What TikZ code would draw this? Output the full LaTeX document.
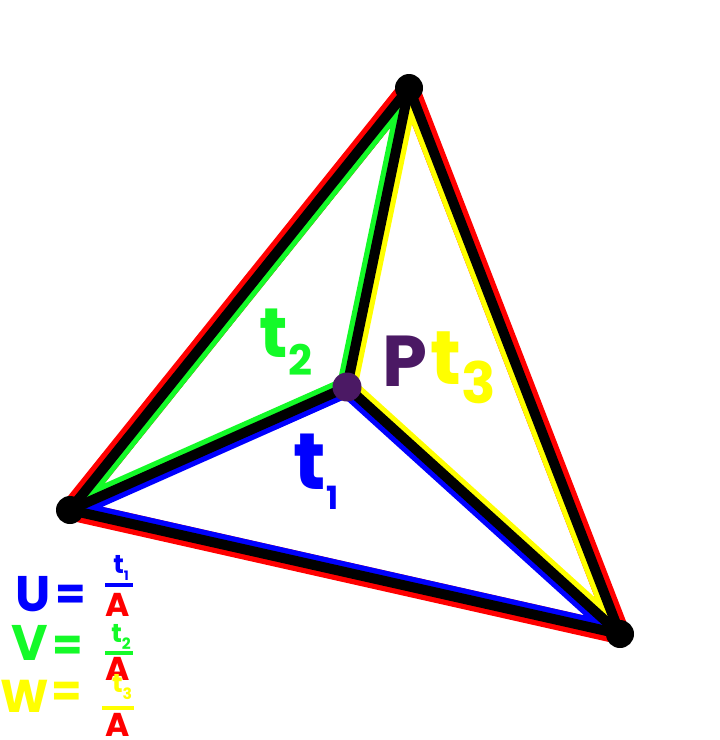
\documentclass[tikz,border=0pt]{standalone}
\usepackage{fontspec}
\setmainfont{Poppins}
\usepackage{xcolor}
\usepackage{graphicx}
\usetikzlibrary{positioning}
\definecolor{rimred}{RGB}{255,0,0}
\definecolor{areablue}{RGB}{0,0,255}
\definecolor{areagreen}{RGB}{20,250,40}
\definecolor{areayellow}{RGB}{255,255,0}
\definecolor{ptpurple}{RGB}{75,25,100}
\newcommand{\lowsub}[2][0.6]{\raisebox{-0.25em}{\scalebox{#1}{#2}}}

\begin{document}
\begin{tikzpicture}[x=1pt, y=-1pt,
  edge/.style={line width=10pt, black, line cap=round},
  side/.style={line width=20.5pt, line join=round, draw=#1},
  vertex/.style={circle, fill=#1, minimum size=28pt, inner sep=0pt},
  vertex/.default=black,
  lbl/.style={font=\fontsize{#1}{#1}\selectfont\bfseries, inner sep=0pt},
  bar/.style={inner sep=0pt}
]
  \useasboundingbox (0,0) rectangle (720,740);

  % corners and the inner point
  \coordinate (T) at (409,88);
  \coordinate (L) at (70,510);
  \coordinate (R) at (620,634);
  \coordinate (P) at (347,387);

  % outer rim
  \draw[side=rimred] (T) -- (L) -- (R) -- cycle;

  % sub-triangles, coloured on the inside only
  \begin{scope}
    \clip (P) -- (L) -- (R) -- cycle;
    \draw[side=areablue] (P) -- (L) -- (R) -- cycle;
  \end{scope}
  \begin{scope}
    \clip (P) -- (T) -- (L) -- cycle;
    \draw[side=areagreen] (P) -- (T) -- (L) -- cycle;
  \end{scope}
  \begin{scope}
    \clip (P) -- (R) -- (T) -- cycle;
    \draw[side=areayellow] (P) -- (R) -- (T) -- cycle;
  \end{scope}

  % black edges
  \draw[edge] (T) -- (L);
  \draw[edge] (L) -- (R);
  \draw[edge] (R) -- (T);
  \draw[edge] (P) -- (T);
  \draw[edge] (P) -- (L);
  \draw[edge] (P) -- (R);

  % dots
  \node[vertex] (dotT) at (T) {};
  \node[vertex] (dotL) at (L) {};
  \node[vertex] (dotR) at (R) {};
  \node[vertex=ptpurple, minimum size=29pt] (dotP) at (P) {};

  % area labels
  \node[lbl=70, text=areagreen] (ttwo) at (286,342) {t\lowsub[0.6]{2}};
  \node[lbl=72, text=ptpurple] (plabel) at (405,361) {P};
  \node[lbl=76, text=areayellow] (tthree) at (463,368) {t\lowsub[0.75]{3}};
  \node[lbl=80, text=areablue] (tone) at (316,472) {t\lowsub[0.4]{1}};

  % barycentric ratios
  \node[lbl=50, text=areablue] (uname) at (33,594) {U};
  \node[lbl=44, text=areablue] (ueq) at (71,597) {=};
  \node[lbl=26, text=areablue] (unum) at (121,568) {t\lowsub[0.5]{1}};
  \node[bar, text=areablue] (ubar) at (119,585) {\rule{28pt}{4.5pt}};
  \node[lbl=33, text=rimred] (uden) at (118,605) {A};

  \node[lbl=50, text=areagreen] (vname) at (30,643) {V};
  \node[lbl=44, text=areagreen] (veq) at (68,648) {=};
  \node[lbl=26, text=areagreen] (vnum) at (121,637) {t\lowsub[0.6]{2}};
  \node[bar, text=areagreen] (vbar) at (119,653) {\rule{28pt}{4.5pt}};
  \node[lbl=33, text=rimred] (vden) at (118,669) {A};

  \node[lbl=46, text=areayellow] (wname) at (25,696) {W};
  \node[lbl=44, text=areayellow] (weq) at (67,694) {=};
  \node[lbl=26, text=areayellow] (wnum) at (122,687) {t\lowsub[0.6]{3}};
  \node[bar, text=areayellow] (wbar) at (118,708) {\rule{32pt}{4.5pt}};
  \node[lbl=33, text=rimred] (wden) at (118,725) {A};
\end{tikzpicture}
\end{document}
